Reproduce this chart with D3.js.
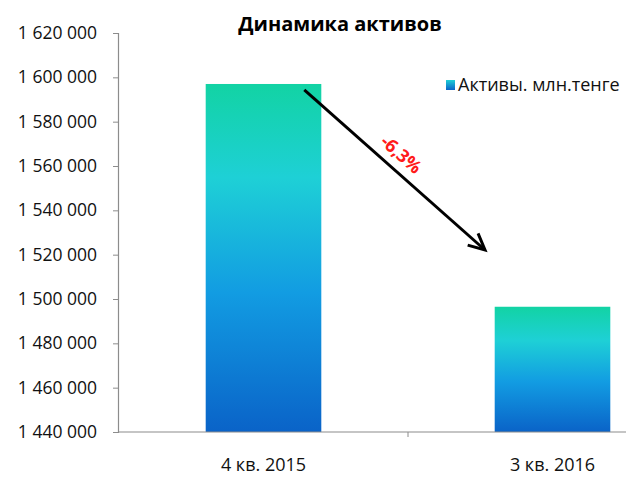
<!DOCTYPE html>
<html><head><meta charset="utf-8">
<script src="https://cdn.jsdelivr.net/npm/d3@7"></script>
<style>body{margin:0;background:#fff}svg{display:block}</style>
</head><body>
<script>
const categories = ["4 кв. 2015", "3 кв. 2016"];
const values = [1597000, 1496500];
const yTicks = [1440000, 1460000, 1480000, 1500000, 1520000, 1540000, 1560000, 1580000, 1600000, 1620000];
const title = "Динамика активов";
const seriesName = "Активы. млн.тенге";
const changeLabel = "-6,3%";

const W = 626, H = 477;
const svg = d3.select("body").append("svg").attr("width", W).attr("height", H);
const font = "'Open Sans', 'Liberation Sans', sans-serif";

const x = d3.scaleBand().domain(categories).range([119, 697]).paddingInner(0.6).paddingOuter(0.3);
const y = d3.scaleLinear().domain([1440000, 1620000]).range([432, 33]);

const defs = svg.append("defs");
const g = defs.append("linearGradient").attr("id", "barGrad").attr("x1", 0).attr("y1", 0).attr("x2", 0).attr("y2", 1);
[[0, "#12d3a4"], [0.27, "#1ed0d6"], [0.6, "#129ce2"], [1, "#0a63c8"]].forEach(([o, c]) =>
  g.append("stop").attr("offset", o).attr("stop-color", c));
const lg = defs.append("linearGradient").attr("id", "legGrad").attr("x1", 0).attr("y1", 0).attr("x2", 0).attr("y2", 1);
[[0, "#1ed0d6"], [1, "#0a63c8"]].forEach(([o, c]) => lg.append("stop").attr("offset", o).attr("stop-color", c));

// bars
svg.selectAll("rect.bar").data(values).enter().append("rect")
  .attr("class", "bar")
  .attr("x", (d, i) => x(categories[i]))
  .attr("width", x.bandwidth())
  .attr("y", d => y(d))
  .attr("height", d => y(1440000) - y(d))
  .attr("fill", "url(#barGrad)");

// y axis
const yAxis = svg.append("g").attr("transform", "translate(118,0)")
  .call(d3.axisLeft(y).tickValues(yTicks).tickSize(5).tickPadding(16)
    .tickFormat(d => d3.format(",")(d).replace(/,/g, " ")));
yAxis.select(".domain").attr("stroke", "#8c8c8c").attr("stroke-width", 1.2);
yAxis.selectAll(".tick line").attr("stroke", "#8c8c8c");
yAxis.selectAll(".tick text").attr("font-family", font).attr("font-size", 17.5).attr("fill", "#111");

// x axis
const xAxis = svg.append("g").attr("transform", "translate(0,432)");
xAxis.append("line").attr("x1", 118).attr("x2", 697).attr("stroke", "#8c8c8c").attr("stroke-width", 1.2);
xAxis.selectAll("line.tk").data([(x(categories[0]) + x.bandwidth() + x(categories[1])) / 2]).enter()
  .append("line").attr("class", "tk").attr("x1", d => d).attr("x2", d => d).attr("y1", 0).attr("y2", 5)
  .attr("stroke", "#8c8c8c");
xAxis.selectAll("text").data(categories).enter().append("text")
  .attr("x", d => x(d) + x.bandwidth() / 2).attr("y", 39)
  .attr("text-anchor", "middle").attr("font-family", font).attr("font-size", 18).attr("fill", "#111")
  .text(d => d);

// title
svg.append("text").attr("x", 340).attr("y", 31).attr("text-anchor", "middle")
  .attr("font-family", font).attr("font-weight", "bold").attr("font-size", 20).attr("fill", "#000")
  .text(title);

// legend
svg.append("rect").attr("x", 446).attr("y", 80).attr("width", 9).attr("height", 10).attr("fill", "url(#legGrad)");
svg.append("text").attr("x", 458).attr("y", 91).attr("font-family", font).attr("font-size", 18).attr("fill", "#111")
  .text(seriesName);

// arrow
const x1 = x(categories[0]) + x.bandwidth() - 17, y1 = y(values[0]) + 6;
const x2 = 485, y2 = 250;
svg.append("line").attr("x1", x1).attr("y1", y1).attr("x2", x2).attr("y2", y2)
  .attr("stroke", "#000").attr("stroke-width", 3);
const ang = Math.atan2(y2 - y1, x2 - x1);
const hl = 18, ha = 0.45;
svg.append("path")
  .attr("d", `M${x2 - hl * Math.cos(ang - ha)},${y2 - hl * Math.sin(ang - ha)} L${x2},${y2} L${x2 - hl * Math.cos(ang + ha)},${y2 - hl * Math.sin(ang + ha)}`)
  .attr("fill", "none").attr("stroke", "#000").attr("stroke-width", 3);
svg.append("text").attr("transform", `translate(397,159) rotate(${ang * 180 / Math.PI})`)
  .attr("text-anchor", "middle").attr("font-family", font).attr("font-weight", "bold").attr("font-size", 18)
  .attr("fill", "#ff1a1a").text(changeLabel);
</script>
</body></html>
